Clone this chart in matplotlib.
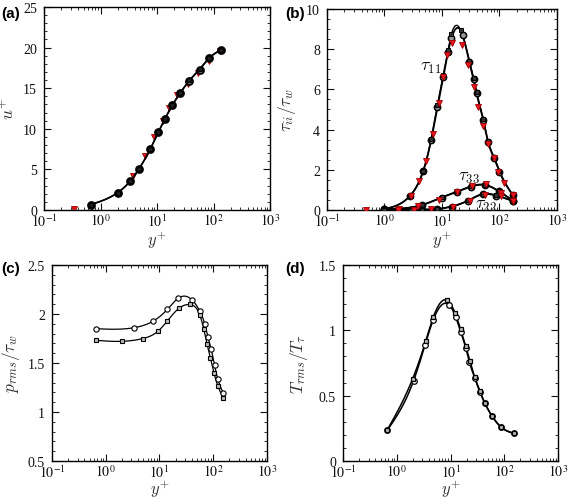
import numpy as np
import matplotlib
matplotlib.use('Agg')
import matplotlib.pyplot as plt
from matplotlib.ticker import FixedLocator, LogLocator, NullFormatter, FuncFormatter, MultipleLocator

plt.rcParams['font.family'] = ['Liberation Serif', 'DejaVu Serif']
plt.rcParams['mathtext.fontset'] = 'stix'

# ---------------- data ----------------
# (a) mean velocity
a_circ_x = [0.667, 2.02, 3.38, 4.74, 7.6, 10.6, 13.8, 18.7, 25.8, 37.2, 56.6, 83.9, 136]
a_circ_y = [0.66, 2.14, 3.58, 5.0, 7.5, 9.6, 11.2, 12.9, 14.4, 15.9, 17.3, 18.7, 19.7]
a_sq_x = [0.667, 2.02, 3.38, 4.74, 7.6, 10.6, 13.8, 18.7, 25.8, 37.2, 56.6, 83.9, 136]
a_sq_y = [0.66, 2.15, 3.6, 5.02, 7.52, 9.62, 11.25, 12.95, 14.45, 15.95, 17.35, 18.75, 19.7]
a_red_x = [0.34, 3.77, 6.06, 8.97, 12.6, 16.5, 22.9, 34.8, 53.6, 84, 131]
a_red_y = [0.1, 4.2, 6.6, 9.0, 11.0, 12.5, 14.1, 15.5, 16.9, 18.4, 19.6]

# (b) normal stresses
t11_circ_x = [1.0, 2.8, 4.7, 6.5, 8.3, 10.5, 12.7, 14.6, 22.9, 30, 35.5, 40, 52, 63, 80, 100, 170]
t11_circ_y = [0.05, 0.71, 1.92, 3.5, 5.1, 6.6, 7.85, 8.55, 8.7, 7.35, 6.5, 5.8, 4.5, 3.4, 2.6, 1.9, 0.75]
t11_sq_x = [1.0, 2.8, 4.7, 6.5, 8.3, 10.5, 12.7, 14.6, 21.1, 30, 35.5, 40, 52, 63, 80, 100, 170]
t11_sq_y = [0.05, 0.72, 1.95, 3.55, 5.2, 6.7, 7.95, 8.75, 8.95, 7.42, 6.55, 5.85, 4.55, 3.45, 2.65, 1.95, 0.75]
t11_red_x = [0.48, 2.84, 3.97, 5.33, 6.97, 8.75, 10.5, 12.4, 15.1, 22.6, 28.4, 35.7, 43, 52.6, 63.4, 79.7, 96, 120, 173]
t11_red_y = [0.0, 0.71, 1.44, 2.45, 3.8, 5.3, 6.6, 7.7, 8.3, 8.2, 7.2, 6.1, 5.1, 4.2, 3.3, 2.6, 1.9, 1.33, 0.75]

t33_circ_x = [1.0, 4.55, 9.9, 18, 31.5, 56, 99, 170]
t33_circ_y = [0.05, 0.25, 0.62, 0.9, 1.16, 1.24, 0.92, 0.47]
t33_sq_x = [1.0, 4.55, 9.9, 18, 31.5, 56, 99, 170]
t33_sq_y = [0.05, 0.26, 0.63, 0.92, 1.18, 1.26, 0.93, 0.47]
t33_red_x = [1.81, 3.8, 8.7, 18.5, 32.8, 58, 105, 174]
t33_red_y = [0.03, 0.2, 0.48, 0.91, 1.19, 1.27, 0.86, 0.47]

t22_circ_x = [1.0, 2.85, 4.55, 8.1, 14.7, 28.7, 51, 87, 170]
t22_circ_y = [0.0, 0.01, 0.02, 0.05, 0.17, 0.47, 0.78, 0.72, 0.45]
t22_sq_x = [1.0, 2.85, 4.55, 8.1, 14.7, 28.7, 51, 87, 170]
t22_sq_y = [0.0, 0.01, 0.02, 0.05, 0.18, 0.48, 0.8, 0.74, 0.45]
t22_red_x = [1.75, 3.3, 6.5, 15.5, 30.4, 55.7, 105, 174]
t22_red_y = [0.0, 0.01, 0.03, 0.17, 0.45, 0.77, 0.68, 0.47]

# (c) pressure rms
c_circ_x = [0.66, 3.36, 7.67, 13.96, 22.4, 39.7, 56.4, 70, 79.5, 91.8, 106, 122, 153]
c_circ_y = [1.85, 1.86, 1.928, 2.046, 2.162, 2.148, 2.029, 1.893, 1.768, 1.64, 1.476, 1.334, 1.198]
c_sq_x = [0.66, 1.98, 4.86, 9.5, 13.96, 23.3, 36.9, 56.4, 67, 77, 89, 103, 122, 153]
c_sq_y = [1.731, 1.721, 1.749, 1.827, 1.928, 2.06, 2.097, 1.988, 1.842, 1.69, 1.554, 1.402, 1.266, 1.147]

# (d) temperature rms
d_circ_x = [0.67, 2.05, 3.37, 4.73, 9.3, 12.5, 15.5, 19.4, 22.4, 28.6, 35.4, 43.9, 59.7, 87.7, 151]
d_circ_y = [0.236, 0.613, 0.89, 1.076, 1.196, 1.102, 0.988, 0.861, 0.759, 0.632, 0.531, 0.442, 0.341, 0.257, 0.211]
d_sq_x = [0.67, 1.98, 3.46, 4.79, 8.7, 12.1, 15.4, 19.1, 23, 28.1, 34.7, 43, 59.7, 87.7, 151]
d_sq_y = [0.24, 0.63, 0.918, 1.102, 1.229, 1.134, 1.007, 0.88, 0.765, 0.64, 0.535, 0.445, 0.343, 0.26, 0.212]

xticks = [0.1, 1, 10, 100, 1000]


def spline(x, y, n=300):
    """natural cubic spline in log10(x) for drawing smooth curve through data"""
    lx = np.log10(np.asarray(x, float))
    y = np.asarray(y, float)
    m = len(lx)
    h = np.diff(lx)
    A = np.zeros((m, m))
    b = np.zeros(m)
    A[0, 0] = 1
    A[-1, -1] = 1
    for i in range(1, m - 1):
        A[i, i - 1] = h[i - 1]
        A[i, i] = 2 * (h[i - 1] + h[i])
        A[i, i + 1] = h[i]
        b[i] = 3 * ((y[i + 1] - y[i]) / h[i] - (y[i] - y[i - 1]) / h[i - 1])
    c = np.linalg.solve(A, b)
    bb = (y[1:] - y[:-1]) / h - h * (2 * c[:-1] + c[1:]) / 3
    d = (c[1:] - c[:-1]) / (3 * h)
    xs = np.linspace(lx[0], lx[-1], n)
    idx = np.clip(np.searchsorted(lx, xs) - 1, 0, m - 2)
    dx = xs - lx[idx]
    ys = y[idx] + bb[idx] * dx + c[idx] * dx ** 2 + d[idx] * dx ** 3
    return 10 ** xs, ys


def style(ax, ylim, ymaj, ymin, xlabelpad=0):
    ax.set_xscale('log')
    ax.set_xlim(0.1, 1000)
    ax.set_ylim(*ylim)
    ax.xaxis.set_major_locator(FixedLocator(xticks))
    ax.xaxis.set_major_formatter(FuncFormatter(lambda v, p: r'$10^{%d}$' % round(np.log10(v))))
    ax.xaxis.set_minor_locator(LogLocator(base=10, subs=np.arange(2, 10), numticks=20))
    ax.xaxis.set_minor_formatter(NullFormatter())
    ax.yaxis.set_major_locator(MultipleLocator(ymaj))
    ax.yaxis.set_minor_locator(MultipleLocator(ymin))
    ax.yaxis.set_major_formatter(FuncFormatter(lambda v, p: '%g' % v))
    ax.tick_params(which='both', direction='in', top=True, right=True, colors='#111')
    ax.tick_params(axis='x', which='major', length=5, width=0.8, labelsize=10, pad=1.5)
    ax.tick_params(axis='y', which='major', length=5, width=0.8, labelsize=10, pad=5)
    ax.tick_params(which='minor', length=2.5, width=0.6)
    for s in ax.spines.values():
        s.set_linewidth(1.0)
    ax.set_xlabel(r'$y^{+}$', fontsize=12, color='#333', math_fontfamily='cm', labelpad=xlabelpad)


fig = plt.figure(figsize=(5.68, 5.02), dpi=100)
axa = fig.add_axes([0.0775, 0.5797, 0.3979, 0.4044])
axb = fig.add_axes([0.5757, 0.5797, 0.4049, 0.4004])
axc = fig.add_axes([0.0915, 0.0797, 0.3785, 0.3904])
axd = fig.add_axes([0.6039, 0.0797, 0.3785, 0.3904])

red_kw = dict(ls='none', marker='v', ms=4.5, mfc='#e8141e', mec='#a00000', mew=0.6)

# (a)
style(axa, (0, 25), 5, 1)
axa.plot(a_red_x, a_red_y, zorder=2, **red_kw)
xs, ys = spline(a_circ_x, a_circ_y)
axa.plot(xs, ys, color='k', lw=1.2, zorder=3)
xs, ys = spline(a_sq_x, a_sq_y)
axa.plot(xs, ys, color='k', lw=1.0, zorder=3)
axa.plot(a_circ_x, a_circ_y, ls='none', marker='o', ms=5, mfc='#777', mec='k', mew=1.3, zorder=4)
axa.plot(a_sq_x, a_sq_y, ls='none', marker='s', ms=2.8, mfc='#222', mec='k', mew=0.8, zorder=5)
axa.set_ylabel(r'$u^{+}$', fontsize=12.5, color='#333', math_fontfamily='cm', labelpad=4)

# (b)
style(axb, (0, 10), 2, 0.5)
for cx, cy, sx, sy in [(t11_circ_x, t11_circ_y, t11_sq_x, t11_sq_y),
                       (t33_circ_x, t33_circ_y, t33_sq_x, t33_sq_y),
                       (t22_circ_x, t22_circ_y, t22_sq_x, t22_sq_y)]:
    xs, ys = spline(cx, cy)
    axb.plot(xs, ys, color='k', lw=1.3, zorder=3)
    xs, ys = spline(sx, sy)
    axb.plot(xs, ys, color='k', lw=1.0, zorder=3)
    axb.plot(cx, cy, ls='none', marker='o', ms=4.5, mfc='#999', mec='k', mew=1.1, zorder=4)
    axb.plot(sx, sy, ls='none', marker='s', ms=2.6, mfc='#333', mec='k', mew=0.7, zorder=4)
for rx, ry in [(t11_red_x, t11_red_y), (t33_red_x, t33_red_y), (t22_red_x, t22_red_y)]:
    axb.plot(rx, ry, zorder=6, **red_kw)
axb.set_ylabel(r'$\tau_{ii}/\tau_w$', fontsize=12.5, color='#333', math_fontfamily='cm', labelpad=6)
axb.text(6.35, 7.15, r'$\tau_{11}$', fontsize=13, math_fontfamily='cm', ha='center', va='center', color='#111')
axb.text(29.5, 1.68, r'$\tau_{33}$', fontsize=13, math_fontfamily='cm', ha='center', va='center', color='#111')
axb.text(57.5, 0.25, r'$\tau_{22}$', fontsize=13, math_fontfamily='cm', ha='center', va='center', color='#111')

# (c)
style(axc, (0.5, 2.5), 0.5, 0.1, xlabelpad=-1.5)
xs, ys = spline(c_circ_x, c_circ_y)
axc.plot(xs, ys, color='k', lw=0.9, zorder=3)
xs, ys = spline(c_sq_x, c_sq_y)
axc.plot(xs, ys, color='k', lw=0.9, zorder=3)
axc.plot(c_circ_x, c_circ_y, ls='none', marker='o', ms=3.8, mfc='white', mec='k', mew=0.8, zorder=4)
axc.plot(c_sq_x, c_sq_y, ls='none', marker='s', ms=3.0, mfc='#bbb', mec='k', mew=0.8, zorder=4)
axc.set_ylabel(r'$p_{rms}/\tau_w$', fontsize=12.5, color='#333', math_fontfamily='cm', labelpad=4)

# (d)
style(axd, (0, 1.5), 0.5, 0.1, xlabelpad=-1.5)
xs, ys = spline(d_circ_x, d_circ_y)
axd.plot(xs, ys, color='k', lw=1.1, zorder=3)
xs, ys = spline(d_sq_x, d_sq_y)
axd.plot(xs, ys, color='k', lw=1.1, zorder=3)
axd.plot(d_circ_x, d_circ_y, ls='none', marker='o', ms=4.0, mfc='white', mec='k', mew=0.9, zorder=4)
axd.plot(d_sq_x, d_sq_y, ls='none', marker='s', ms=3.2, mfc='#bbb', mec='k', mew=0.9, zorder=4)
axd.set_ylabel(r'$T_{rms}/T_{\tau}$', fontsize=12.5, color='#333', math_fontfamily='cm', labelpad=6)

# panel labels
for lab, x, y in [('(a)', 0.002, 0.973), ('(b)', 0.503, 0.973), ('(c)', 0.002, 0.465), ('(d)', 0.503, 0.465)]:
    fig.text(x, y, lab, fontsize=11, fontweight='bold', family='Liberation Sans', ha='left', va='center')

fig.savefig('out.png', dpi=100)
